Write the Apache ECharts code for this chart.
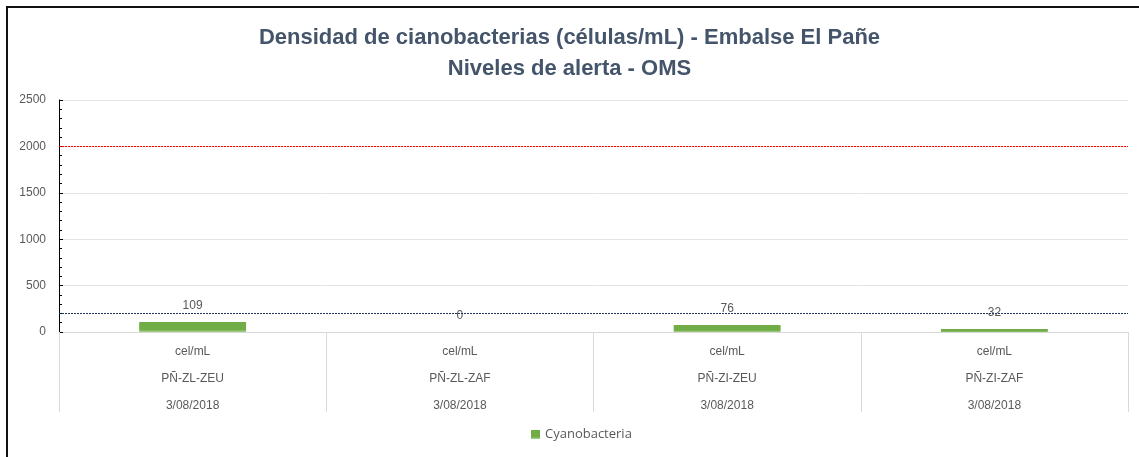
<!DOCTYPE html>
<html>
<head>
<meta charset="utf-8">
<script src="https://cdn.jsdelivr.net/npm/echarts@6/dist/echarts.min.js"></script>
<style>
html,body{margin:0;padding:0;background:#fff;}
#wrap{position:relative;width:1139px;height:457px;overflow:hidden;}
#frame{position:absolute;left:6px;top:6px;width:1200px;height:500px;border-left:2px solid #111;border-top:2px solid #111;box-sizing:border-box;}
#chart{position:absolute;left:0;top:0;width:1139px;height:457px;}
</style>
</head>
<body>
<div id="wrap"><div id="frame"></div><div id="chart"></div></div>
<script>
const units = ['cel/mL', 'cel/mL', 'cel/mL', 'cel/mL'];
const sites = ['PÑ-ZL-ZEU', 'PÑ-ZL-ZAF', 'PÑ-ZI-ZEU', 'PÑ-ZI-ZAF'];
const dates = ['3/08/2018', '3/08/2018', '3/08/2018', '3/08/2018'];
const values = [109, 0, 76, 32];
const alertHigh = 2000;
const alertLow = 200;
const yTicks = [0, 500, 1000, 1500, 2000, 2500];

const categories = sites.map((s, i) => units[i] + '\n' + s + '\n' + dates[i]);

const chart = echarts.init(document.getElementById('chart'), null, {renderer: 'canvas'});
const txt = '#595959';
function alertSeries(name, level, color) {
  const ls = {color: color, type: [2, 1], width: 1, opacity: 1};
  return {
    name: name,
    type: 'line',
    data: [],
    silent: true,
    color: color,
    itemStyle: {color: color},
    lineStyle: {color: color},
    markLine: {
      silent: true,
      symbol: 'none',
      label: {show: false},
      itemStyle: {color: color},
      lineStyle: ls,
      emphasis: {disabled: true},
      data: [{yAxis: level, lineStyle: ls, itemStyle: {color: color}}]
    }
  };
}
chart.setOption({
  animation: false,
  backgroundColor: 'transparent',
  title: {
    text: 'Densidad de cianobacterias (células/mL) - Embalse El Pañe\nNiveles de alerta - OMS',
    left: 'center',
    top: 17,
    textStyle: {
      fontFamily: 'Liberation Sans, Arial, sans-serif',
      fontSize: 22,
      fontWeight: 'bold',
      color: '#44546a',
      lineHeight: 31
    }
  },
  legend: {
    data: ['Cyanobacteria'],
    bottom: 11,
    left: 526,
    itemWidth: 9,
    itemHeight: 9,
    icon: 'rect',
    textStyle: {fontFamily: 'Open Sans, sans-serif', fontSize: 13, color: txt}
  },
  grid: {left: 59, right: 11, top: 100, bottom: 125, containLabel: false},
  xAxis: {
    type: 'category',
    data: categories,
    axisLine: {lineStyle: {color: '#d9d9d9', width: 1}},
    axisTick: {show: true, length: 80, lineStyle: {color: '#d9d9d9'}},
    axisLabel: {
      color: txt,
      fontFamily: 'Liberation Sans, Arial, sans-serif',
      fontSize: 12,
      lineHeight: 27,
      margin: 6
    }
  },
  yAxis: {
    type: 'value',
    min: yTicks[0],
    max: yTicks[yTicks.length - 1],
    interval: 500,
    axisLine: {show: true, lineStyle: {color: '#000', width: 1}},
    axisTick: {show: true, inside: true, length: 4, lineStyle: {color: '#000'}},
    minorTick: {show: true, splitNumber: 5, length: 3, lineStyle: {color: '#000'}},
    splitLine: {show: true, lineStyle: {color: '#e3e3e3', width: 1}},
    axisLabel: {
      color: txt,
      fontFamily: 'Liberation Sans, Arial, sans-serif',
      fontSize: 12,
      margin: 13,
      formatter: v => String(v)
    }
  },
  series: [{
    name: 'Cyanobacteria',
    type: 'bar',
    data: values,
    barWidth: '40%',
    itemStyle: {
      color: new echarts.graphic.LinearGradient(0, 0, 0, 1, [
        {offset: 0, color: '#70ad47'},
        {offset: 0.75, color: '#70ad47'},
        {offset: 1, color: '#a9d18e'}
      ])
    },
    label: {
      show: true,
      position: 'top',
      distance: 10,
      color: txt,
      fontFamily: 'Liberation Sans, Arial, sans-serif',
      fontSize: 12
    }
  },
  alertSeries('Alerta 2', alertHigh, '#ff0000'),
  alertSeries('Alerta 1', alertLow, '#1f3864')
  ]
});
</script>
</body>
</html>
